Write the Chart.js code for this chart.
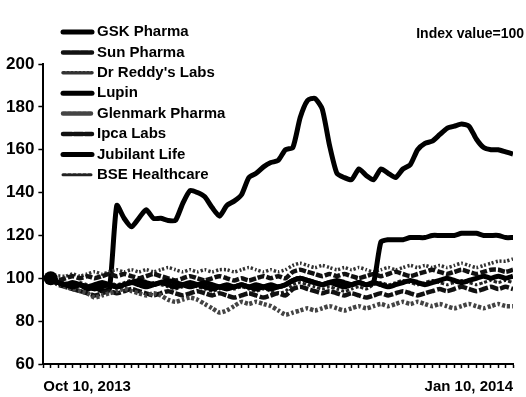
<!DOCTYPE html>
<html>
<head>
<meta charset="utf-8">
<script src="https://cdn.jsdelivr.net/npm/chart.js@4"></script>
<style>
  html, body { margin: 0; background: #fff; }
  #wrap { width: 526px; height: 397px; }
</style>
</head>
<body>
<div id="wrap"><canvas id="chart"></canvas></div>
<script>
// Rebased share prices, 64 trading days Oct 10, 2013 -> Jan 10, 2014 (index value = 100)
const companies = ['GSK Pharma', 'Sun Pharma', "Dr Reddy's Labs", 'Lupin', 'Glenmark Pharma', 'Ipca Labs', 'Jubilant Life', 'BSE Healthcare'];
const dateLabels = ['Oct 10, 2013', 'Jan 10, 2014'];
const yTicks = [60, 80, 100, 120, 140, 160, 180, 200];
const note = 'Index value=100';

const gskPharma = [100, 98, 97, 98, 97, 96, 97, 98, 97, 96, 97, 98, 99, 98, 97, 98, 99, 98, 97, 96, 97, 98, 97, 96, 95, 96, 97, 96, 97, 96, 95, 96, 97, 99, 100, 99, 98, 97, 98, 99, 98, 97, 98, 97, 98,
  117, 118, 118, 118, 119, 119, 119, 120, 120, 120, 120, 121, 121, 121, 120, 120, 120, 119, 119];
const sunPharma = [100, 99, 100, 101, 100, 101, 100, 101, 102, 101, 102, 101, 100, 101, 102, 101, 100, 99, 100, 101, 100, 99, 100, 101, 100, 99, 100, 99, 100, 101, 100, 101,
  100, 103, 104, 103, 102, 101, 102, 101, 102, 101, 100, 101, 102, 101, 102, 103, 102, 101, 102, 103, 104, 103, 102, 103, 104, 103, 102, 103, 104, 104, 103, 104];
const drReddys = [100, 101, 101, 102, 101, 102, 103, 102, 103, 104, 103, 104, 103, 104, 103, 104, 105, 104, 103, 104, 103, 104, 103, 104, 104, 103, 104, 105, 104, 103, 104, 103,
  104, 106, 107, 106, 105, 106, 105, 104, 105, 104, 105, 104, 103, 104, 105, 104, 105, 106, 105, 106, 105, 106, 105, 106, 107, 106, 105, 106, 107, 108, 108, 109];
const lupin = [100, 98, 97, 96, 97, 96, 95, 96, 97, 96, 97, 98, 97, 96, 97, 98, 97, 96, 97, 98, 97, 96, 95, 96, 97, 96, 97, 96, 95, 96, 97, 96,
  97, 99, 100, 99, 98, 97, 98, 97, 96, 97, 98, 97, 98, 97, 96, 97, 98, 99, 98, 97, 98, 99, 100, 99, 98, 99, 100, 101, 100, 101, 100, 101];
const glenmark = [100, 98, 96, 95, 94, 93, 91, 92, 93, 94, 95, 94, 93, 92, 93, 92, 90, 89, 90, 91, 90, 88, 86, 84, 85, 87, 89, 88, 89, 88, 87, 85,
  83, 84, 85, 86, 85, 86, 87, 86, 85, 86, 87, 86, 87, 88, 87, 88, 89, 88, 89, 88, 87, 88, 87, 86, 87, 88, 87, 86, 87, 88, 87, 87];
const ipcaLabs = [100, 97, 96, 95, 94, 93, 92, 93, 94, 93, 94, 95, 94, 93, 92, 93, 94, 93, 92, 93, 94, 93, 92, 93, 92, 91, 92, 93, 92, 91, 92, 93,
  92, 95, 96, 95, 94, 93, 94, 93, 92, 93, 92, 91, 92, 93, 92, 93, 94, 93, 92, 93, 94, 95, 94, 95, 96, 95, 94, 95, 96, 95, 96, 95];
const jubilantLife = [100, 98, 97, 96, 97, 95, 96, 94, 95, 134, 128, 124, 128, 132, 128, 128, 127, 127, 135, 141, 140, 138, 133, 129, 134, 136, 139, 147, 149, 152, 154, 155,
  160, 161, 175, 183, 184, 179, 162, 149, 147, 146, 151, 148, 146, 151, 149, 147, 151, 153, 160, 163, 164, 167, 170, 171, 172, 171, 165, 161, 160, 160, 159, 158];
const bseHealthcare = [100, 99, 98, 97, 98, 97, 96, 97, 98, 97, 98, 99, 98, 97, 98, 97, 96, 95, 96, 97, 96, 95, 94, 95, 96, 95, 96, 95, 94, 95, 94, 93,
  94, 97, 98, 97, 96, 95, 96, 95, 94, 95, 96, 95, 97, 98, 97, 98, 99, 98, 97, 98, 99, 98, 97, 98, 99, 98, 97, 98, 99, 98, 99, 98];

const seriesValues = [gskPharma, sunPharma, drReddys, lupin, glenmark, ipcaLabs, jubilantLife, bseHealthcare];

// print-style line looks (black ink, told apart by texture)
const looks = [
  { color: '#000', width: 5, dash: [] },
  { color: '#111', width: 4.5, dash: [7, 2] },
  { color: '#333', width: 3.5, dash: [2, 2] },
  { color: '#000', width: 5, dash: [] },
  { color: '#444', width: 4.5, dash: [3, 2] },
  { color: '#111', width: 4.5, dash: [9, 2] },
  { color: '#000', width: 5, dash: [] },
  { color: '#222', width: 3, dash: [3, 2] }
];

const datasets = companies.map((name, i) => ({
  label: name,
  data: seriesValues[i].map((v, day) => ({ x: day, y: v })),
  borderColor: looks[i].color,
  borderWidth: looks[i].width,
  borderDash: looks[i].dash,
  backgroundColor: '#000',
  pointRadius: i === 0 ? (c => c.dataIndex === 0 ? 7 : 0) : 0,
  pointBorderWidth: 0,
  tension: 0.2,
  fill: false
}));
const lastDay = gskPharma.length - 1;

const FONT = '"Liberation Sans", Arial, sans-serif';

// legend list and note sit inside the top-left / top-right of the plot
const printLegend = {
  id: 'printLegend',
  afterDraw(chart) {
    const ctx = chart.ctx;
    ctx.save();
    chart.data.datasets.forEach((ds, i) => {
      const y = 32 + i * 20.4;
      ctx.beginPath();
      ctx.setLineDash(ds.borderDash);
      ctx.lineWidth = ds.borderWidth;
      ctx.strokeStyle = ds.borderColor;
      ctx.lineCap = 'round';
      ctx.moveTo(63, y);
      ctx.lineTo(92, y);
      ctx.stroke();
      ctx.setLineDash([]);
      ctx.fillStyle = '#000';
      ctx.font = 'bold 15px ' + FONT;
      ctx.textBaseline = 'middle';
      ctx.fillText(ds.label, 97, y);
    });
    ctx.textAlign = 'right';
    ctx.font = 'bold 14px ' + FONT;
    ctx.fillText(note, 524, 34);
    ctx.restore();
  }
};

new Chart(document.getElementById('chart'), {
  type: 'line',
  data: { datasets },
  options: {
    responsive: true,
    maintainAspectRatio: false,
    animation: false,
    layout: { padding: { top: 64, left: 2, right: 13, bottom: -8 } },
    plugins: { legend: { display: false }, tooltip: { enabled: false } },
    scales: {
      x: {
        type: 'linear',
        min: -1,
        max: lastDay,
        border: { display: true, color: '#000', width: 2 },
        grid: { drawOnChartArea: false, color: '#000', tickLength: 4, tickWidth: 1.5 },
        ticks: {
          stepSize: 1,
          autoSkip: false,
          maxRotation: 0,
          align: 'inner',
          padding: 11,
          color: '#000',
          font: { family: FONT, size: 15, weight: 'bold', lineHeight: 1 },
          callback: v => v === -1 ? dateLabels[0] : (v === lastDay ? dateLabels[1] : '')
        }
      },
      y: {
        min: yTicks[0],
        max: yTicks[yTicks.length - 1],
        afterBuildTicks: s => { s.ticks = yTicks.map(v => ({ value: v })); },
        border: { display: true, color: '#000', width: 2 },
        grid: { drawOnChartArea: false, color: '#000', tickLength: 5, tickWidth: 1.5 },
        ticks: {
          padding: 4,
          color: '#000',
          font: { family: FONT, size: 17, weight: 'bold' }
        }
      }
    }
  },
  plugins: [printLegend]
});
</script>
</body>
</html>
